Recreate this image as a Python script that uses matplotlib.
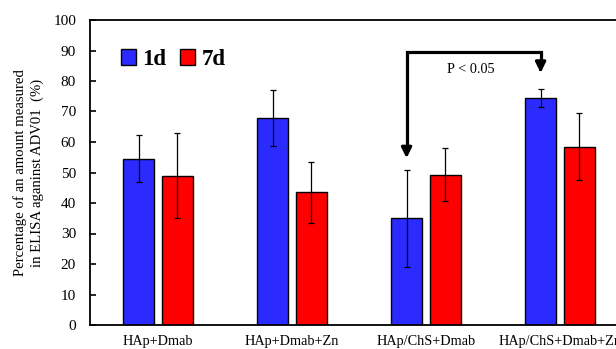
import numpy as np
import matplotlib.pyplot as plt

plt.rcParams['font.family'] = ['Liberation Serif', 'DejaVu Serif']

groups = ['HAp+Dmab', 'HAp+Dmab+Zn', 'HAp/ChS+Dmab', 'HAp/ChS+Dmab+Zn']
d1_mean = [54.5, 67.8, 35.0, 74.5]
d1_err = [7.7, 9.2, 15.9, 3.0]
d7_mean = [49.0, 43.5, 49.3, 58.5]
d7_err = [13.8, 10.0, 8.6, 11.0]

fig = plt.figure(figsize=(6.16, 3.49), dpi=100)
# axes run past the right edge, as in the cropped original
ax = fig.add_axes([90 / 616, 24 / 349, 538 / 616, 305 / 349])

x = np.arange(len(groups))
w = 0.23
off = 0.145
ekw = dict(elinewidth=0.9, capsize=2.5, capthick=0.9, ecolor='black')
ax.bar(x - off, d1_mean, w, yerr=d1_err, color='#2b2bff', edgecolor='black',
       linewidth=1.0, error_kw=ekw, label='1d')
ax.bar(x + off, d7_mean, w, yerr=d7_err, color='#ff0000', edgecolor='black',
       linewidth=1.0, error_kw=ekw, label='7d')

ax.set_xlim(-0.507, 3.507)
ax.set_ylim(0, 100)
ax.set_yticks(range(0, 101, 10))
ax.tick_params(axis='y', direction='in', length=4, width=1.2, labelsize=11, pad=10)
ax.tick_params(axis='x', length=0, labelsize=10.3, pad=7)
ax.set_xticks(x)
ax.set_xticklabels(groups)
for s in ax.spines.values():
    s.set_linewidth(1.3)
ax.set_ylabel('Percentage of an amount measured\nin ELISA aganinst ADV01  (%)',
              fontsize=10.6, labelpad=7, linespacing=1.3)

# significance bracket
xl, xr, ytop = x[2] - off, x[3] - off, 89.5
ax.plot([xl, xl, xr, xr], [57, ytop, ytop, 84.5], color='black', lw=2.3,
        solid_joinstyle='miter', solid_capstyle='butt')
ax.annotate('', xy=(xl, 53.8), xytext=(xl, 58), arrowprops=dict(
    arrowstyle='-|>,head_width=0.3,head_length=0.6', color='black', lw=2.3))
ax.annotate('', xy=(xr, 81.8), xytext=(xr, 85.5), arrowprops=dict(
    arrowstyle='-|>,head_width=0.3,head_length=0.6', color='black', lw=2.3))
ax.text((xl + xr) / 2 - 0.02, 83.8, 'P < 0.05', ha='center', va='center', fontsize=10.3)

ax.legend(loc='upper left', bbox_to_anchor=(0.04, 0.935), ncol=2, frameon=False,
          prop={'weight': 'bold', 'size': 16.5}, handlelength=0.65, handleheight=0.65,
          handletextpad=0.3, columnspacing=0.6, borderaxespad=0)

fig.savefig('out.png', dpi=100)
